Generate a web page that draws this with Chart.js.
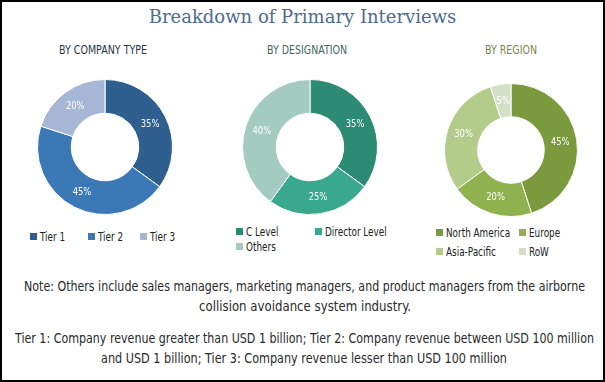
<!DOCTYPE html>
<html>
<head>
<meta charset="utf-8">
<script src="https://cdn.jsdelivr.net/npm/chart.js@4"></script>
<style>
  html, body { margin: 0; padding: 0; background: #fff; }
  #frame { position: relative; width: 605px; height: 382px; box-sizing: border-box; border: 2px solid #000; overflow: hidden; background:#fff; }
  .abs { position: absolute; }
  #title { left: 0; width: 601px; top: 4px; text-align: center; font-family: "DejaVu Serif", serif; font-size: 18px; color: #4d6a94; white-space: nowrap; }
  .sub { top: 40px; text-align: center; font-family: "DejaVu Sans Condensed", sans-serif; font-size: 12px; white-space: nowrap; }
  .leg { font-family: "DejaVu Sans Condensed", sans-serif; font-size: 12px; color: #222; white-space: nowrap; }
  .leg span.box { display: inline-block; width: 7px; height: 7px; margin-right: 3px; vertical-align: 1px; }
  .leg span.txt { display: inline-block; transform-origin: 0 50%; }
  .note { font-family: "DejaVu Sans Condensed", sans-serif; font-size: 14px; color: #2a2a2a; white-space: nowrap; }
  canvas { position: absolute; }
</style>
</head>
<body>
<div id="frame">
  <div id="title" class="abs">Breakdown of Primary Interviews</div>
  <div id="legends"></div>
</div>
<script>
// ---- data ----
const companyLabels = ["Tier 1", "Tier 2", "Tier 3"];
const companyValues = [35, 45, 20];
const designationLabels = ["C Level", "Director Level", "Others"];
const designationValues = [35, 25, 40];
const regionLabels = ["North America", "Europe", "Asia-Pacific", "RoW"];
const regionValues = [45, 20, 30, 5];
const subtitles = ["BY COMPANY TYPE", "BY DESIGNATION", "BY REGION"];
const noteLines = [
  "Note: Others include sales managers, marketing managers, and product managers from the airborne",
  "collision avoidance system industry.",
  "Tier 1: Company revenue greater than USD 1 billion; Tier 2: Company revenue between USD 100 million",
  "and USD 1 billion; Tier 3: Company revenue lesser than USD 100 million"
];

// ---- styles ----
const companyColors = ["#2f5f8f", "#3b78b6", "#a5b7d5"];
const designationColors = ["#2d8a73", "#3aa88e", "#a3cbbf"];
const regionColors = ["#7a9a3d", "#8fb24e", "#b3cc8a", "#d5dfc8"];

const frame = document.getElementById('frame');

// place a text element so that it spans [x0, x1] horizontally (condensed via scaleX)
function placeText(text, cls, x0, x1, top, color) {
  const d = document.createElement('div');
  d.className = 'abs ' + cls;
  d.textContent = text;
  d.style.left = x0 + 'px';
  d.style.top = top + 'px';
  d.style.transformOrigin = '0 50%';
  if (color) d.style.color = color;
  frame.appendChild(d);
  const w = d.getBoundingClientRect().width;
  d.style.transform = 'scaleX(' + ((x1 - x0) / w) + ')';
  return d;
}

placeText(subtitles[0], 'sub', 57, 145, 41, '#2a3444');
placeText(subtitles[1], 'sub', 265, 345, 41, '#3b6b5e');
placeText(subtitles[2], 'sub', 483, 535, 41, '#7d8445');

placeText(noteLines[0], 'note', 22, 583, 276);
placeText(noteLines[1], 'note', 197, 409, 296);
placeText(noteLines[2], 'note', 13, 592, 328);
placeText(noteLines[3], 'note', 99, 505, 348);

const pctPlugin = {
  id: 'pct',
  afterDatasetsDraw(chart) {
    const ctx = chart.ctx;
    const meta = chart.getDatasetMeta(0);
    ctx.save();
    ctx.fillStyle = '#fff';
    ctx.font = '11px "DejaVu Sans Condensed", sans-serif';
    ctx.textAlign = 'center';
    ctx.textBaseline = 'middle';
    meta.data.forEach((arc, i) => {
      const p = arc.tooltipPosition();
      ctx.save();
      ctx.translate(p.x, p.y);
      ctx.scale(0.85, 1);
      ctx.fillText(chart.data.datasets[0].data[i] + '%', 0, 0);
      ctx.restore();
    });
    ctx.restore();
  }
};

function makeDonut(id, cx, cy, size, labels, values, colors) {
  const c = document.createElement('canvas');
  c.id = id;
  c.width = size; c.height = size;
  c.style.left = (cx - size / 2) + 'px';
  c.style.top = (cy - size / 2) + 'px';
  c.style.width = size + 'px'; c.style.height = size + 'px';
  frame.appendChild(c);
  new Chart(c, {
    type: 'doughnut',
    data: { labels: labels, datasets: [{ data: values, backgroundColor: colors, borderColor: '#fff', borderWidth: 1 }] },
    options: {
      responsive: false, animation: false, cutout: '50%',
      layout: { padding: 0 },
      plugins: { legend: { display: false }, tooltip: { enabled: false } }
    },
    plugins: [pctPlugin]
  });
}

function makeLegend(labels, colors, positions) {
  const host = document.getElementById('legends');
  labels.forEach((l, i) => {
    const d = document.createElement('div');
    d.className = 'abs leg';
    d.style.left = positions[i][0] + 'px';
    d.style.top = positions[i][1] + 'px';
    d.innerHTML = '<span class="box" style="background:' + colors[i] + '"></span><span class="txt" style="transform:scaleX(0.82)">' + l + '</span>';
    host.appendChild(d);
  });
}

makeDonut('c1', 103, 145, 136, companyLabels, companyValues, companyColors);
makeDonut('c2', 308, 145, 136, designationLabels, designationValues, designationColors);
makeDonut('c3', 509, 148, 134, regionLabels, regionValues, regionColors);

makeLegend(companyLabels, companyColors, [[28, 228], [86, 228], [138, 228]]);
makeLegend(designationLabels, designationColors, [[234, 223], [313, 223], [234, 238]]);
makeLegend(regionLabels, regionColors, [[434, 224], [517, 224], [434, 243], [517, 243]]);
</script>
</body>
</html>
